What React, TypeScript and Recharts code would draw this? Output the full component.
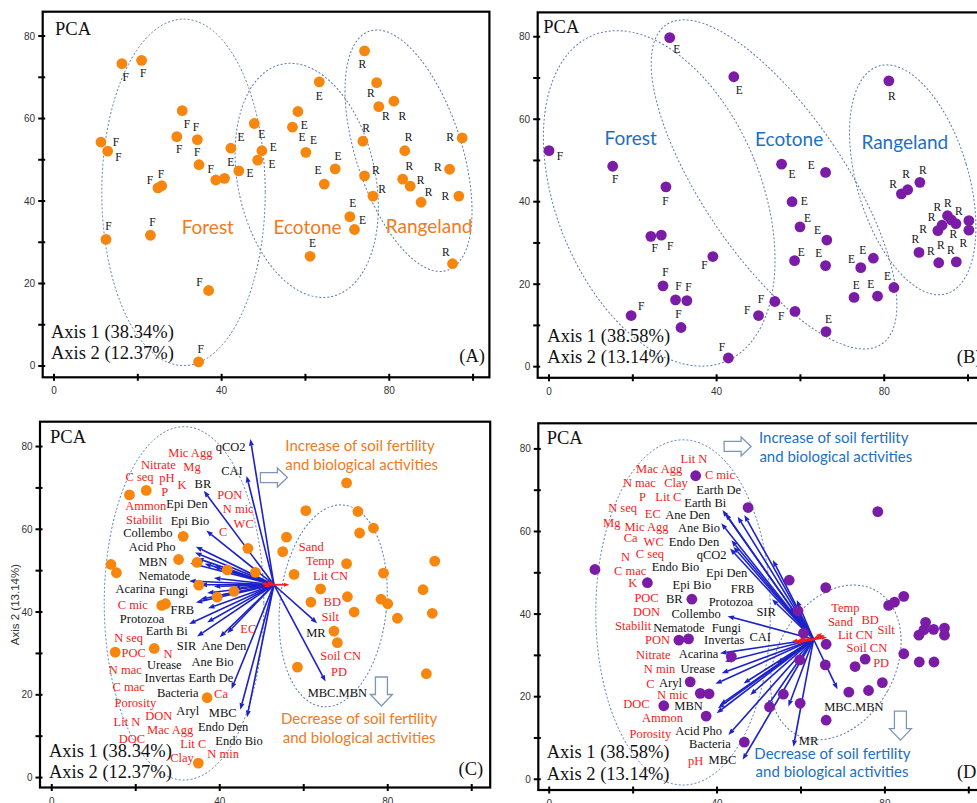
import { ScatterChart, Scatter, XAxis, YAxis, ReferenceArea, ReferenceLine, ReferenceDot } from "recharts";

type P = [number, number];
type L = [number, number, string];
type Ell = [number, number, number, number, number]; // cx, cy, rx, ry, tilt (deg)

// ---------- panel A : sites (orange) ----------
const aPoints: P[] = [
  [11.2, 54.3], [12.8, 52.1], [16.2, 73.3], [20.9, 74.1], [30.6, 61.9], [29.3, 55.6], [34.2, 54.9], [34.6, 48.8],
  [24.8, 43.2], [25.7, 43.7], [38.6, 45.1], [40.7, 45.5], [42.2, 52.8], [44.1, 47.3], [47.8, 58.8], [49.6, 52.2],
  [48.6, 49.9], [12.4, 30.7], [23.0, 31.7], [36.9, 18.3], [34.5, 1.0], [56.9, 57.9], [58.2, 61.7], [60.1, 51.8],
  [63.3, 68.9], [67.1, 47.8], [64.5, 44.1], [70.6, 36.2], [71.7, 33.1], [61.1, 26.6], [74.1, 76.4], [77.0, 68.7],
  [77.5, 62.9], [81.1, 64.2], [73.7, 54.5], [74.1, 46.1], [76.1, 41.2], [83.7, 52.2], [83.2, 45.3], [85.0, 43.6],
  [87.6, 39.7], [94.4, 47.7], [96.6, 41.2], [97.4, 55.3], [95.1, 24.8],
];
const aTagF: P[] = [
  [14.8, 54.4], [15.4, 50.6], [17.1, 70.0], [21.3, 71.1], [31.7, 58.7], [29.9, 52.5], [33.9, 58.0], [34.2, 52.0],
  [37.4, 47.7], [22.9, 45.1], [25.5, 46.5], [13.0, 33.9], [23.5, 35.0], [34.7, 20.4], [35.0, 4.2],
];
const aTagE: P[] = [
  [44.6, 55.4], [42.2, 49.4], [46.8, 46.9], [49.6, 56.2], [52.3, 53.0], [52.0, 48.9], [59.7, 58.4], [59.2, 55.4],
  [61.9, 54.8], [63.3, 65.5], [67.8, 50.9], [63.0, 47.4], [71.3, 39.4], [73.6, 35.4], [61.7, 29.7],
];
const aTagR: P[] = [
  [73.6, 73.2], [75.6, 66.1], [79.2, 60.6], [83.1, 60.6], [74.5, 57.6], [76.8, 47.5], [78.3, 43.0], [84.6, 55.4],
  [84.8, 48.5], [87.5, 45.1], [89.4, 42.2], [91.6, 48.3], [93.4, 41.1], [94.5, 55.4], [93.5, 27.7],
];
const aGroups: L[] = [[36.7, 33.9, "Forest"], [60.5, 33.9, "Ecotone"], [89.5, 34.0, "Rangeland"]];
const aEllipses: Ell[] = [[30.9, 42.1, 19.5, 42.0, 0], [60.3, 45.0, 16.4, 28.8, -12], [84.6, 52.2, 12.6, 30.5, -18]];

// ---------- panel B : sites (purple) ----------
const bPoints: P[] = [
  [0, 52.4], [15.2, 48.6], [27.9, 43.6], [24.3, 31.6], [26.8, 31.9], [39.1, 26.7], [27.2, 19.6], [30.2, 16.2],
  [32.9, 16.0], [19.6, 12.4], [31.5, 9.5], [42.8, 2.1], [50.0, 12.4], [53.9, 15.8], [58.7, 13.4], [28.8, 79.8],
  [44.1, 70.3], [55.5, 49.1], [66.0, 47.1], [58.0, 40.0], [59.9, 33.9], [66.3, 30.7], [58.6, 25.7], [66.0, 24.5],
  [74.4, 24.0], [77.4, 26.3], [72.8, 16.8], [78.4, 17.1], [82.3, 19.2], [66.1, 8.5], [81.1, 69.3], [84.1, 41.9],
  [85.6, 42.9], [88.5, 44.7], [92.8, 33.0], [93.8, 34.3], [95.1, 36.6], [96.0, 35.6], [97.1, 34.7], [100.2, 35.4],
  [100.2, 33.1], [88.3, 27.7], [93.0, 25.2], [97.2, 25.4],
];
const bTagF: P[] = [
  [2.6, 51.1], [15.8, 45.5], [27.8, 40.2], [25.2, 28.8], [28.9, 29.3], [37.1, 24.6], [27.8, 22.9], [30.9, 19.5],
  [33.3, 19.4], [22.0, 14.8], [30.9, 12.7], [41.3, 4.8], [47.3, 13.7], [50.6, 16.4], [55.4, 12.3],
];
const bTagE: P[] = [
  [30.5, 77.0], [45.4, 67.2], [58.0, 46.7], [62.6, 48.9], [60.9, 40.2], [61.7, 36.0], [64.1, 33.1], [60.2, 27.8],
  [64.4, 27.6], [72.2, 26.1], [74.9, 28.4], [73.3, 19.8], [76.8, 20.0], [80.8, 22.0], [66.7, 11.6],
];
const bTagR: P[] = [
  [81.8, 65.6], [82.1, 44.4], [85.2, 46.7], [89.2, 47.8], [91.3, 36.4], [92.7, 38.8], [95.2, 39.8], [97.8, 37.8],
  [87.4, 30.9], [89.3, 33.3], [91.1, 28.1], [93.5, 29.5], [95.9, 28.4], [96.5, 32.2], [98.9, 30.1],
];
const bGroups: L[] = [[19.5, 55.6, "Forest"], [57.3, 55.3, "Ecotone"], [84.9, 54.7, "Rangeland"]];
const bEllipses: Ell[] = [[26.3, 40.8, 24.5, 42.7, -22], [53.7, 44.2, 17.0, 46.7, -34], [86.8, 45.3, 13.3, 28.8, -16.5]];

// ---------- panel C : biplot (orange) ----------
const cPoints: P[] = [
  [18.5, 68.3], [22.5, 69.4], [70.2, 71.2], [60.5, 64.5], [72.9, 64.3], [76.6, 60.3], [73.3, 59.1], [31.3, 58.3],
  [46.7, 55.4], [55.9, 58.1], [55.0, 54.6], [14.1, 51.5], [15.4, 49.5], [30.2, 52.7], [34.6, 52.0], [41.8, 50.2],
  [48.5, 49.6], [57.7, 49.1], [70.2, 51.7], [79.0, 49.4], [91.2, 52.3], [35.0, 46.5], [43.4, 45.0], [39.4, 43.6],
  [64.0, 45.6], [61.7, 42.4], [70.4, 43.7], [72.0, 40.0], [78.4, 43.1], [80.0, 42.0], [82.3, 38.5], [88.4, 45.4],
  [90.6, 39.7], [26.2, 41.6], [27.1, 42.0], [15.1, 30.3], [24.4, 31.2], [67.2, 35.4], [68.0, 32.6], [58.5, 26.7],
  [89.2, 25.1], [37.0, 19.3], [34.9, 3.5],
];
const cOrigin: P = [52.9, 46.6];
const cArrows: P[] = [
  [47.3, 81.8], [46.4, 72.9], [36.2, 69.3], [36.8, 59.7], [34.3, 55.8], [34.1, 54.4], [34.6, 53.0], [33.0, 51.8],
  [36.4, 51.7], [38.6, 51.0], [40.2, 50.6], [32.7, 47.5], [35.4, 46.6], [38.6, 46.2], [43.4, 45.8], [34.3, 42.3],
  [35.4, 43.1], [37.2, 40.9], [38.6, 43.8], [32.7, 37.1], [34.6, 34.1], [37.0, 37.5], [40.0, 33.9], [41.8, 34.9],
  [42.8, 21.4], [44.9, 16.4], [46.5, 14.6], [63.2, 37.3], [65.2, 23.2], [38.6, 48.2], [37.0, 44.6],
];
const cRedArrows: P[] = [[56.6, 46.6], [49.8, 46.9], [50.4, 46.2], [51.2, 47.4]];
const cSoil: L[] = [
  [33.0, 78.4, "Mic Agg"], [25.4, 75.5, "Nitrate"], [33.4, 75.0, "Mg"], [20.9, 72.6, "C seq"], [27.4, 72.3, "pH"],
  [31.0, 70.7, "K"], [26.9, 68.9, "P"], [22.4, 65.7, "Ammon"], [22.0, 62.3, "Stabilit"], [42.4, 68.3, "PON"],
  [44.4, 65.0, "N mic"], [45.7, 61.3, "WC"], [40.8, 59.4, "C"], [19.3, 41.8, "C mic"], [18.3, 33.8, "N seq"],
  [19.5, 30.1, "POC"], [27.7, 29.9, "N"], [17.5, 25.9, "N mac"], [18.3, 21.8, "C mac"], [19.9, 18.0, "Porosity"],
  [17.9, 13.5, "Lit N"], [25.5, 14.9, "DON"], [28.2, 11.4, "Mac Agg"], [19.1, 9.4, "DOC"], [33.7, 8.0, "Lit C"],
  [31.0, 4.7, "Clay"], [40.8, 5.6, "N min"], [46.8, 36.0, "EC"], [40.3, 20.2, "Ca"], [61.8, 55.8, "Sand"],
  [63.9, 52.3, "Temp"], [66.4, 48.6, "Lit CN"], [66.8, 42.5, "BD"], [66.3, 38.9, "Silt"], [68.8, 29.4, "Soil CN"],
  [68.4, 25.4, "PD"],
];
const cBio: L[] = [
  [42.6, 79.9, "qCO2"], [42.9, 74.2, "CAI"], [36.0, 71.0, "BR"], [32.2, 66.1, "Epi Den"], [32.9, 62.1, "Epi Bio"],
  [22.9, 59.1, "Collembo"], [23.9, 55.6, "Acid Pho"], [24.1, 52.1, "MBN"], [26.8, 48.8, "Nematode"],
  [19.9, 45.5, "Acarina"], [29.0, 45.0, "Fungi"], [31.1, 40.4, "FRB"], [21.5, 38.4, "Protozoa"],
  [27.4, 35.5, "Earth Bi"], [32.1, 31.7, "SIR"], [41.0, 31.7, "Ane Den"], [38.3, 28.0, "Ane Bio"],
  [26.8, 27.1, "Urease"], [26.9, 24.0, "Invertas"], [37.9, 24.0, "Earth De"], [30.0, 20.4, "Bacteria"],
  [32.4, 16.2, "Aryl"], [40.7, 15.7, "MBC"], [40.8, 12.2, "Endo Den"], [44.6, 8.8, "Endo Bio"], [62.9, 34.9, "MR"],
  [68.0, 20.4, "MBC.MBN"],
];
const cNotes: L[] = [
  [73.4, 80.4, "Increase of soil fertility"], [73.8, 75.8, "and biological activities"],
  [73.2, 14.3, "Decrease of soil fertility"], [73.2, 9.8, "and biological activities"],
];
const cEllipses: Ell[] = [[31.5, 42.1, 19.0, 42.7, 0], [67.0, 41.5, 12.7, 24.5, 6]];
const cHollowRight: P = [52.9, 72.5];
const cHollowDown: P = [78.5, 20.8];

// ---------- panel D : biplot (purple) ----------
const dPoints: P[] = [
  [10.9, 50.8], [34.9, 73.5], [47.4, 65.8], [78.3, 64.8], [23.4, 47.6], [34.0, 43.6], [57.2, 48.2], [65.9, 46.4],
  [59.3, 40.8], [60.6, 35.4], [80.9, 42.1], [82.3, 42.9], [84.5, 44.3], [88.1, 34.9], [89.3, 36.2], [89.7, 38.0],
  [91.6, 36.3], [94.2, 36.6], [94.2, 34.9], [84.5, 30.4], [88.2, 28.4], [91.7, 28.4], [30.9, 33.7], [33.2, 34.0],
  [43.4, 29.7], [66.0, 32.7], [59.7, 28.9], [65.8, 27.7], [72.9, 27.3], [75.3, 29.1], [33.6, 23.6], [36.0, 20.8],
  [38.1, 20.7], [55.8, 20.6], [27.3, 17.8], [37.4, 15.3], [52.5, 17.5], [59.8, 18.4], [71.4, 21.1], [76.1, 21.5],
  [79.4, 23.4], [66.0, 14.3], [46.5, 9.0],
];
const dOrigin: P = [63.0, 33.9];
const dArrows: P[] = [
  [41.3, 65.2], [42.0, 64.4], [44.9, 63.6], [46.5, 64.0], [41.0, 62.0], [43.4, 57.9], [43.9, 56.3], [43.1, 55.9],
  [53.3, 53.1], [53.1, 43.6], [42.5, 39.5], [40.7, 30.5], [41.9, 28.5], [41.1, 25.7], [39.6, 23.1], [46.3, 23.2],
  [47.9, 20.4], [40.7, 18.0], [40.2, 17.2], [39.9, 16.0], [42.7, 10.7], [46.1, 4.7], [51.9, 17.6], [58.2, 7.9],
  [68.7, 21.8], [57.0, 17.6], [54.3, 28.1], [57.4, 41.7], [59.0, 43.4],
];
const dRedArrows: P[] = [[57.8, 33.4], [58.6, 32.9], [59.4, 33.9], [65.7, 34.9], [65.0, 35.4], [66.2, 34.4]];
const dSoil: L[] = [
  [34.5, 77.5, "Lit N"], [26.2, 75.1, "Mac Agg"], [40.7, 73.7, "C mic"], [21.5, 71.8, "N mac"], [30.2, 71.7, "Clay"],
  [22.2, 68.4, "P"], [28.4, 68.3, "Lit C"], [17.5, 65.6, "N seq"], [24.7, 64.2, "EC"], [14.9, 62.1, "Mg"],
  [23.2, 61.2, "Mic Agg"], [19.4, 58.4, "Ca"], [24.9, 57.4, "WC"], [18.2, 53.9, "N"], [24.0, 54.6, "C seq"],
  [19.3, 50.5, "C mac"], [19.9, 47.6, "K"], [23.2, 43.9, "POC"], [23.2, 40.4, "DON"], [20.0, 37.2, "Stabilit"],
  [25.8, 33.7, "PON"], [24.8, 30.0, "Nitrate"], [26.3, 26.6, "N min"], [24.1, 23.1, "C"], [29.4, 20.3, "N mic"],
  [20.8, 18.2, "DOC"], [27.0, 14.8, "Ammon"], [24.1, 10.9, "Porosity"], [34.9, 4.5, "pH"], [70.6, 41.4, "Temp"],
  [69.4, 38.0, "Sand"], [76.5, 38.6, "BD"], [80.3, 36.2, "Silt"], [73.0, 34.9, "Lit CN"], [75.7, 31.7, "Soil CN"],
  [79.1, 28.2, "PD"],
];
const dBio: L[] = [
  [40.4, 70.1, "Earth De"], [37.2, 66.8, "Earth Bi"], [33.0, 64.1, "Ane Den"], [35.7, 60.8, "Ane Bio"],
  [34.5, 57.4, "Endo Den"], [38.7, 54.3, "qCO2"], [30.1, 51.5, "Endo Bio"], [42.3, 49.9, "Epi Den"],
  [34.0, 47.1, "Epi Bio"], [46.1, 46.1, "FRB"], [29.8, 43.6, "BR"], [43.3, 42.9, "Protozoa"], [35.0, 40.0, "Collembo"],
  [51.7, 40.5, "SIR"], [30.9, 36.7, "Nematode"], [42.2, 36.6, "Fungi"], [50.3, 34.5, "CAI"], [41.7, 33.7, "Invertas"],
  [35.6, 30.3, "Acarina"], [35.4, 26.8, "Urease"], [28.9, 23.3, "Aryl"], [33.2, 17.8, "MBN"], [35.6, 11.7, "Acid Pho"],
  [38.3, 8.5, "Bacteria"], [41.3, 4.7, "MBC"], [61.8, 9.3, "MR"], [72.6, 17.4, "MBC.MBN"],
];
const dNotes: L[] = [
  [67.8, 82.8, "Increase of soil fertility"], [68.3, 78.3, "and biological activities"],
  [67.5, 6.3, "Decrease of soil fertility"], [67.4, 1.9, "and biological activities"],
];
const dEllipses: Ell[] = [[31.9, 40.4, 20.8, 41.8, 0], [68.3, 28.3, 14.1, 19.9, 29]];
const dHollowRight: P = [44.9, 80.6];
const dHollowDown: P = [83.7, 13.0];

const xTicks = [0, 20, 40, 60, 80, 100];
const yTicks = [0, 10, 20, 30, 40, 50, 60, 70, 80];

const ORANGE = "#F7860E";
const PURPLE = "#7A1CA6";
const ORANGE_TXT = "#F07A22";
const BLUE_TXT = "#1D6FBF";
const ARROW = "#1C22C8";
const RED = "#F41C1C";
const SERIF = "'Liberation Serif', 'Times New Roman', serif";
const SANS = "'Liberation Sans', Arial, sans-serif";
const CALI = "Lato, 'Open Sans', sans-serif";

const toPts = (a: P[]) => a.map(([x, y]) => ({ x, y }));
const toTags = (a: P[], t: string) => a.map(([x, y]) => ({ x, y, t }));
const toLabels = (a: L[]) => a.map(([x, y, t]) => ({ x, y, t }));

const xTick = (p: any) => (
  <g>
    <line x1={p.x} x2={p.x} y1={p.y - 3.5} y2={p.y + 3.5} stroke="#000" strokeWidth={2} />
    {p.payload.value % 40 === 0 && (
      <text x={p.x} y={p.y + 13.5} textAnchor="middle" dominantBaseline="central" fontSize={10} fill="#333" fontFamily={SANS}>
        {p.payload.value}
      </text>
    )}
  </g>
);

const yTick = (p: any) => (
  <g>
    <line x1={p.x - 4.5} x2={p.x + 2.5} y1={p.y} y2={p.y} stroke="#000" strokeWidth={2} />
    {p.payload.value % 20 === 0 && (
      <text x={p.x - 7.5} y={p.y} textAnchor="end" dominantBaseline="central" fontSize={10} fill="#333" fontFamily={SANS}>
        {p.payload.value}
      </text>
    )}
  </g>
);

const textShape = (color: string, size: number, font: string) => (s: any) => (
  <text x={s.cx} y={s.cy} textAnchor="middle" dominantBaseline="central" fontSize={size} fill={color} fontFamily={font}>
    {s.payload.t}
  </text>
);

const arrowShape = (color: string, width: number, head: number) => (s: any) => {
  const { x1, y1, x2, y2 } = s;
  const ang = Math.atan2(y2 - y1, x2 - x1);
  const hx = x2 - head * Math.cos(ang);
  const hy = y2 - head * Math.sin(ang);
  const nx = -Math.sin(ang) * head * 0.38;
  const ny = Math.cos(ang) * head * 0.38;
  return (
    <g>
      <line x1={x1} y1={y1} x2={hx} y2={hy} stroke={color} strokeWidth={width} />
      <polygon points={`${x2},${y2} ${hx + nx},${hy + ny} ${hx - nx},${hy - ny}`} fill={color} />
    </g>
  );
};

const ellipseShape = (tilt: number) => (r: any) => {
  const cx = r.x + r.width / 2;
  const cy = r.y + r.height / 2;
  return (
    <ellipse cx={cx} cy={cy} rx={r.width / 2} ry={r.height / 2} transform={`rotate(${tilt} ${cx} ${cy})`}
      fill="none" stroke="#5A7AB0" strokeWidth={1} strokeDasharray="2 2" />
  );
};

const hollowShape = (dir: "right" | "down") => (s: any) => {
  const { cx, cy } = s;
  const d = dir === "right"
    ? "M -13.5 -5 L 3.5 -5 L 3.5 -9.5 L 13.5 0 L 3.5 9.5 L 3.5 5 L -13.5 5 Z"
    : "M -6 -14.5 L 6 -14.5 L 6 3 L 11 3 L 0 14.5 L -11 3 L -6 3 Z";
  return <path d={d} transform={`translate(${cx} ${cy})`} fill="#fff" stroke="#7B96BD" strokeWidth={1.3} />;
};

type Annot = { tag: string; ax1: string; ax2: string; pca: P; ax: [number, number, number]; tagPos: P; yLabel?: string };

const frameShape = (a: Annot) => (r: any) => {
  const bottom = r.y + r.height;
  const right = r.x + r.width;
  const f = { fontFamily: SERIF, fill: "#111", fontSize: 18.5 };
  return (
    <g>
      <rect x={r.x} y={r.y} width={r.width} height={r.height} fill="none" stroke="#000" strokeWidth={2.2} />
      <text x={r.x + a.pca[0]} y={r.y + a.pca[1]} {...f}>PCA</text>
      <text x={r.x + a.ax[0]} y={bottom - a.ax[1]} {...f}>{a.ax1}</text>
      <text x={r.x + a.ax[0]} y={bottom - a.ax[2]} {...f}>{a.ax2}</text>
      <text x={right - a.tagPos[0]} y={bottom - a.tagPos[1]} textAnchor="end" {...f}>{a.tag}</text>
      {a.yLabel && (
        <text x={r.x - 25} y={r.y + r.height / 2} transform={`rotate(-90 ${r.x - 25} ${r.y + r.height / 2})`}
          textAnchor="middle" dominantBaseline="central" fontSize={11.5} fill="#333" fontFamily={SANS}>
          {a.yLabel}
        </text>
      )}
    </g>
  );
};

type PanelProps = {
  box: [number, number, number, number]; // chart left, top, width, height (page px)
  plot: [number, number, number, number]; // plot left, top, right, bottom (page px)
  xDomain: [number, number];
  yDomain: [number, number];
  xAxisH: number;
  points: P[];
  color: string;
  ellipses: Ell[];
  tags?: { x: number; y: number; t: string }[];
  groups?: L[];
  groupColor?: string;
  origin?: P;
  arrows?: P[];
  redArrows?: P[];
  soil?: L[];
  bio?: L[];
  notes?: L[];
  noteColor?: string;
  hollow?: [P, P];
  annot: Annot;
};

function Panel(p: PanelProps) {
  const [bl, bt, bw, bh] = p.box;
  const [pl, pt, pr, pb] = p.plot;
  const yW = 30;
  const margin = { left: pl - bl - yW, top: pt - bt, right: bl + bw - pr, bottom: bt + bh - pb - p.xAxisH };
  return (
    <div style={{ position: "absolute", left: bl, top: bt }}>
      <ScatterChart width={bw} height={bh} margin={margin}>
        <XAxis type="number" dataKey="x" domain={p.xDomain} allowDataOverflow ticks={xTicks} interval={0}
          tick={xTick} tickLine={false} axisLine={false} tickSize={0} tickMargin={0} height={p.xAxisH} />
        <YAxis type="number" dataKey="y" domain={p.yDomain} allowDataOverflow ticks={yTicks} interval={0}
          tick={yTick} tickLine={false} axisLine={false} tickSize={0} tickMargin={0} width={yW} />
        {p.ellipses.map(([cx, cy, rx, ry, tilt], i) => (
          <ReferenceArea key={`e${i}`} x1={cx - rx} x2={cx + rx} y1={cy - ry} y2={cy + ry} ifOverflow="visible"
            shape={ellipseShape(tilt)} />
        ))}
        <Scatter data={toPts(p.points)} isAnimationActive={false}
          shape={(s: any) => <circle cx={s.cx} cy={s.cy} r={5.4} fill={p.color} />} />
        {p.origin && p.arrows && p.arrows.map(([x, y], i) => (
          <ReferenceLine key={`a${i}`} segment={[{ x: p.origin![0], y: p.origin![1] }, { x, y }]} ifOverflow="visible"
            shape={arrowShape(ARROW, 1.6, 6.5)} />
        ))}
        {p.origin && p.redArrows && p.redArrows.map(([x, y], i) => (
          <ReferenceLine key={`r${i}`} segment={[{ x: p.origin![0], y: p.origin![1] }, { x, y }]} ifOverflow="visible"
            shape={arrowShape(RED, 1.8, 5.5)} />
        ))}
        {p.tags && (
          <Scatter data={p.tags} isAnimationActive={false} shape={textShape("#111", 11.5, SERIF)} />
        )}
        {p.groups && (
          <Scatter data={toLabels(p.groups)} isAnimationActive={false} shape={textShape(p.groupColor!, 19, CALI)} />
        )}
        {p.soil && (
          <Scatter data={toLabels(p.soil)} isAnimationActive={false} shape={textShape(RED, 12.5, SERIF)} />
        )}
        {p.bio && (
          <Scatter data={toLabels(p.bio)} isAnimationActive={false} shape={textShape("#111", 12.5, SERIF)} />
        )}
        {p.notes && (
          <Scatter data={toLabels(p.notes)} isAnimationActive={false} shape={textShape(p.noteColor!, 15, CALI)} />
        )}
        {p.hollow && (
          <ReferenceDot x={p.hollow[0][0]} y={p.hollow[0][1]} r={0} ifOverflow="visible" shape={hollowShape("right")} />
        )}
        {p.hollow && (
          <ReferenceDot x={p.hollow[1][0]} y={p.hollow[1][1]} r={0} ifOverflow="visible" shape={hollowShape("down")} />
        )}
        <ReferenceArea x1={p.xDomain[0]} x2={p.xDomain[1]} y1={p.yDomain[0]} y2={p.yDomain[1]} ifOverflow="visible"
          shape={frameShape(p.annot)} />
      </ScatterChart>
    </div>
  );
}

export default function App() {
  return (
    <div style={{ position: "absolute", left: 0, top: 0, width: 977, height: 803, overflow: "hidden", background: "#fff" }}>
      <Panel
        box={[0, 0, 492, 400]} plot={[42.7, 11.7, 489.4, 377.3]} xDomain={[-2.7, 103.9]} yDomain={[-2.74, 85.9]} xAxisH={20}
        points={aPoints} color={ORANGE} ellipses={aEllipses}
        tags={[...toTags(aTagF, "F"), ...toTags(aTagE, "E"), ...toTags(aTagR, "R")]}
        groups={aGroups} groupColor={ORANGE_TXT}
        annot={{ tag: "(A)", ax1: "Axis 1 (38.34%)", ax2: "Axis 2 (12.37%)", pca: [12.3, 23.6], ax: [8.3, 39.6, 18.3], tagPos: [4.4, 15.6] }}
      />
      <Panel
        box={[490, 0, 500, 400]} plot={[537.7, 12.4, 984.8, 377.8]} xDomain={[-2.7, 104]} yDomain={[-2.7, 85.9]} xAxisH={20}
        points={bPoints} color={PURPLE} ellipses={bEllipses}
        tags={[...toTags(bTagF, "F"), ...toTags(bTagE, "E"), ...toTags(bTagR, "R")]}
        groups={bGroups} groupColor={BLUE_TXT}
        annot={{ tag: "(B)", ax1: "Axis 1 (38.58%)", ax2: "Axis 2 (13.14%)", pca: [5.6, 21], ax: [9.6, 36, 15], tagPos: [3.4, 14.5] }}
      />
      <Panel
        box={[0, 400, 492, 406]} plot={[40, 421.7, 490.2, 787.5]} xDomain={[-2.8, 104.4]} yDomain={[-2.4, 86.0]} xAxisH={15}
        points={cPoints} color={ORANGE} ellipses={cEllipses}
        origin={cOrigin} arrows={cArrows} redArrows={cRedArrows} soil={cSoil} bio={cBio}
        notes={cNotes} noteColor={ORANGE_TXT} hollow={[cHollowRight, cHollowDown]}
        annot={{ tag: "(C)", ax1: "Axis 1 (38.34%)", ax2: "Axis 2 (12.37%)", pca: [10, 21.6], ax: [9, 30.2, 9.2], tagPos: [7, 12.5], yLabel: "Axis 2 (13.14%)" }}
      />
      <Panel
        box={[490, 400, 500, 406]} plot={[538.3, 423.3, 985.6, 790]} xDomain={[-2.6, 104]} yDomain={[-2.6, 86.2]} xAxisH={15}
        points={dPoints} color={PURPLE} ellipses={dEllipses}
        origin={dOrigin} arrows={dArrows} redArrows={dRedArrows} soil={dSoil} bio={dBio}
        notes={dNotes} noteColor={BLUE_TXT} hollow={[dHollowRight, dHollowDown]}
        annot={{ tag: "(D)", ax1: "Axis 1 (38.58%)", ax2: "Axis 2 (13.14%)", pca: [8.4, 21], ax: [8.4, 31.7, 10], tagPos: [3, 11.7] }}
      />
    </div>
  );
}
